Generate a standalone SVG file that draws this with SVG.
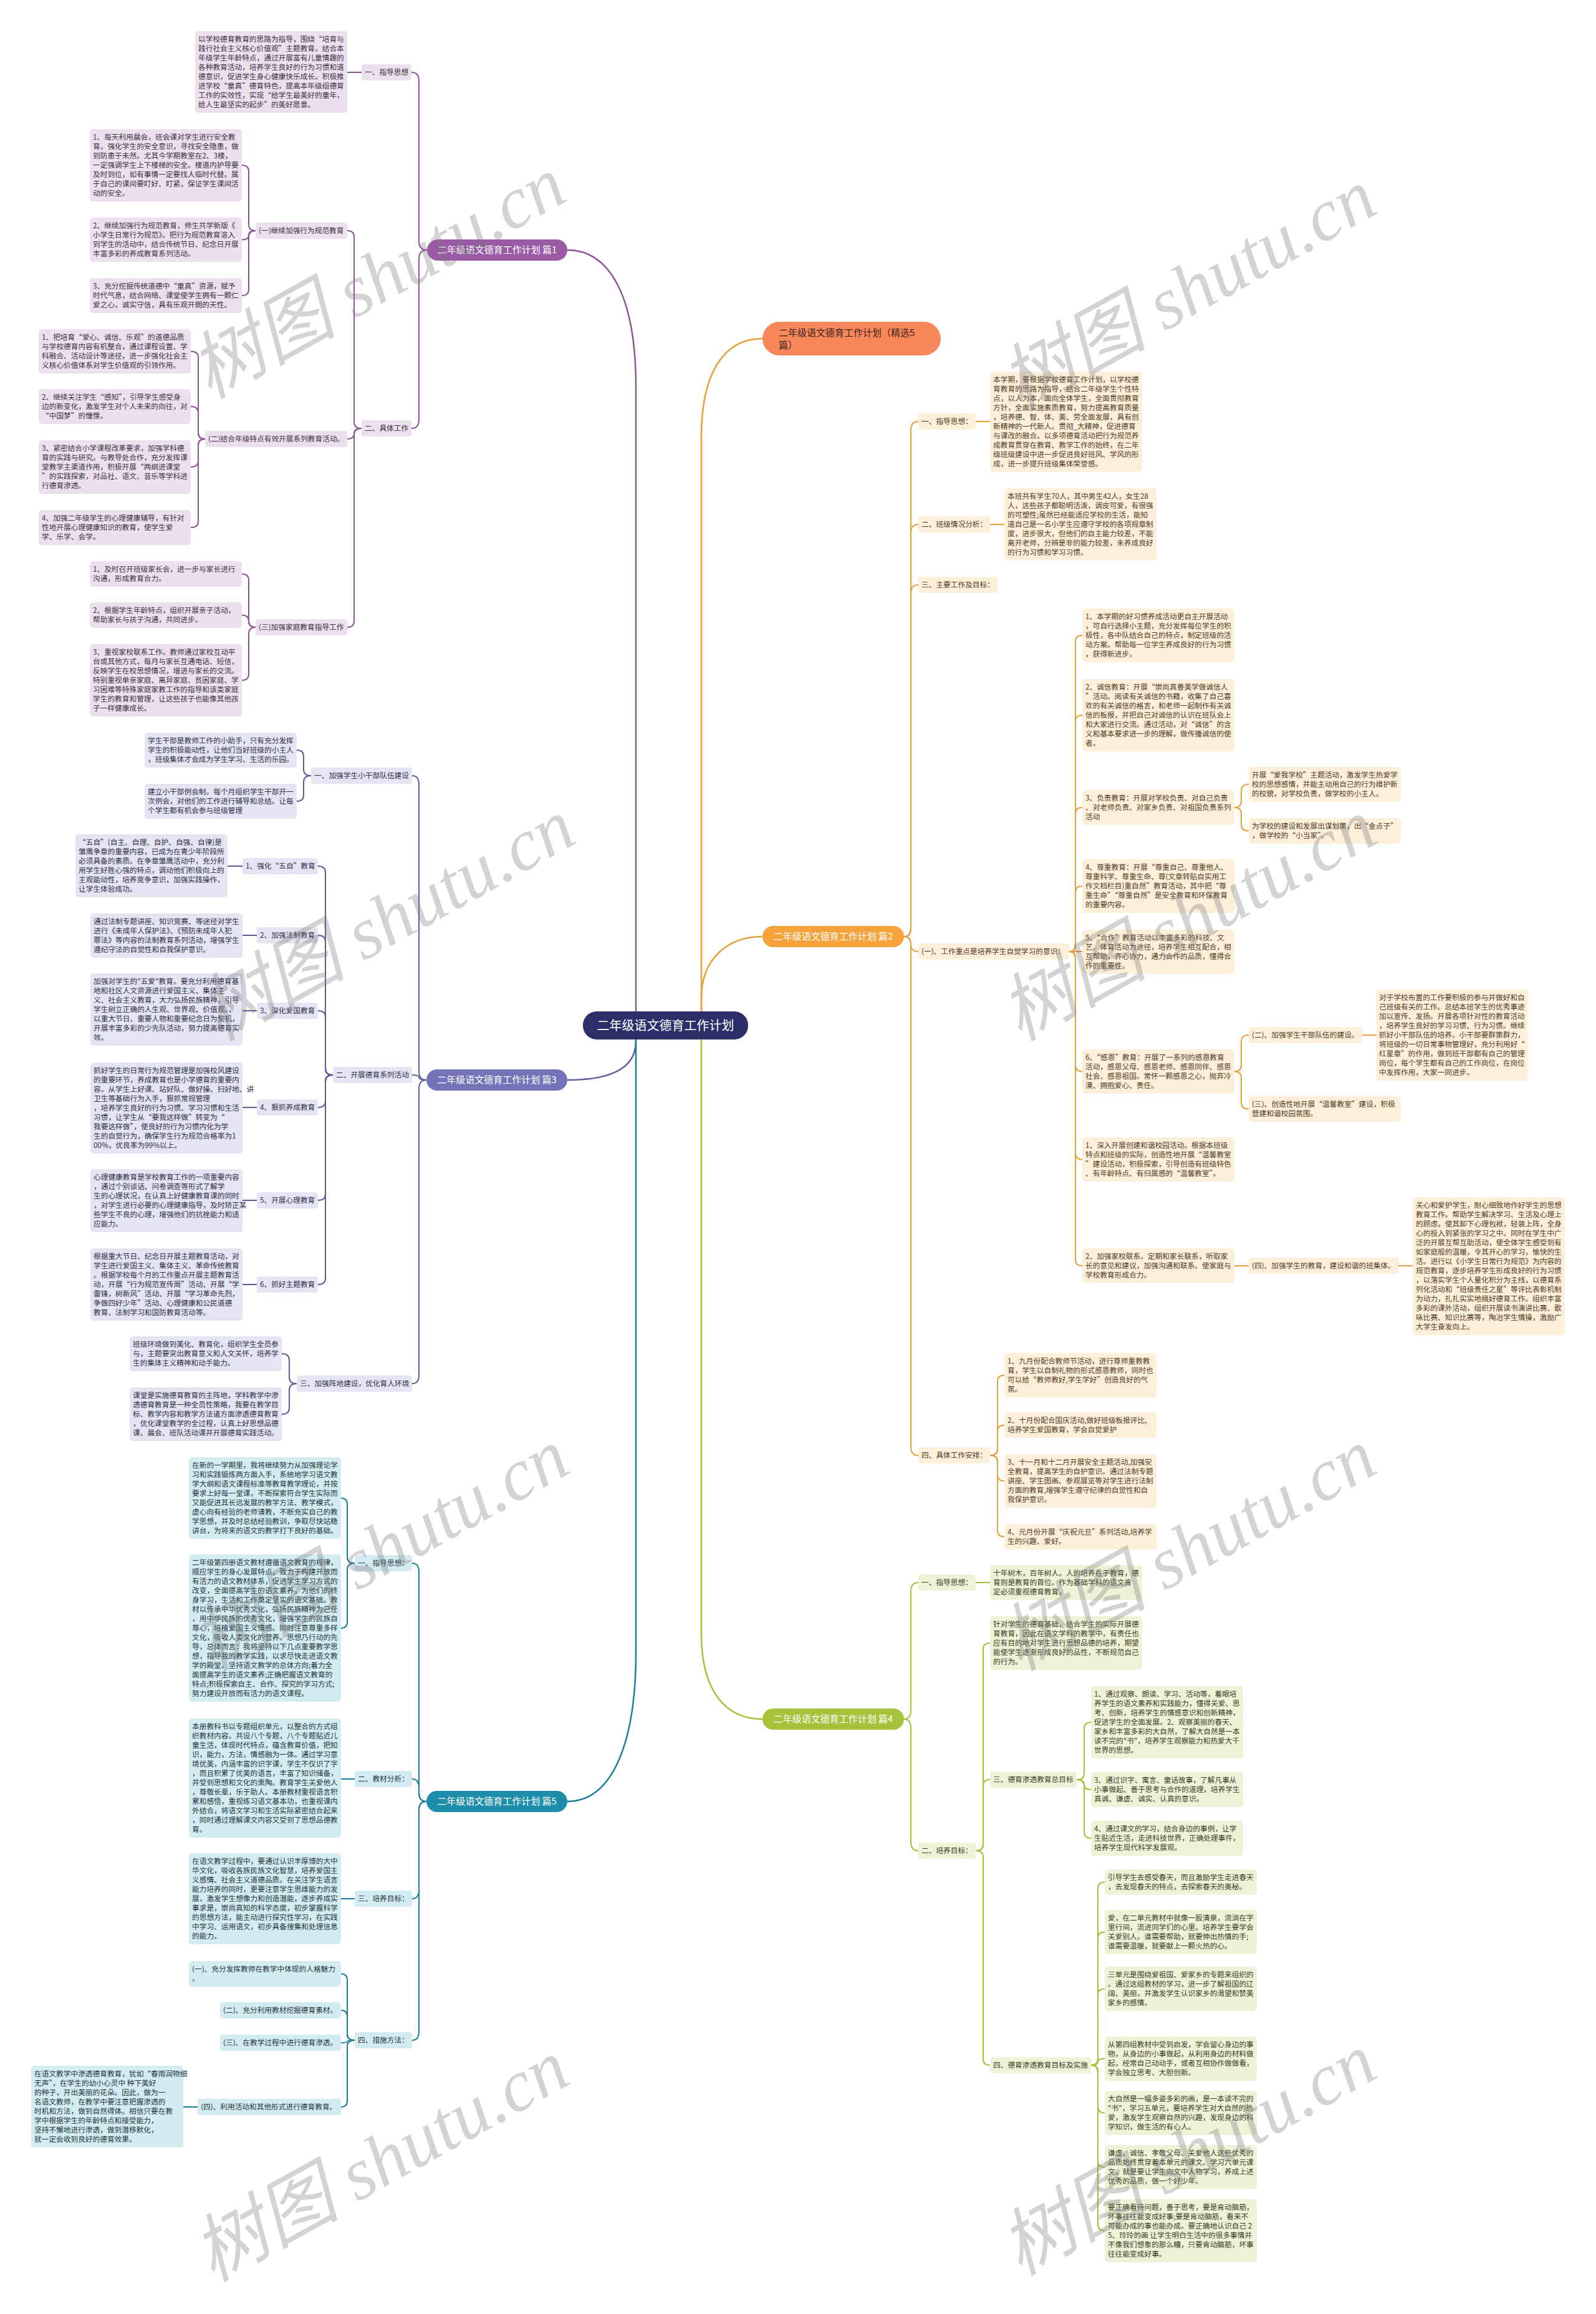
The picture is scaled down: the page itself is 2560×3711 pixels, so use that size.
<svg xmlns="http://www.w3.org/2000/svg" width="2560" height="3711" viewBox="0 0 2560 3711">
<style>
text{font-family:"Noto Sans CJK SC","Noto Sans",sans-serif}
.t{font-size:11.7px}
.tp{fill:#3a3040}.to{fill:#4f3c22}.ts{fill:#2f2f48}.tg{fill:#3a3d25}.tc{fill:#23343a}
.bp{fill:#ece0ef}.bo{fill:#fdefd9}.bs{fill:#e4e4f2}.bg{fill:#eef2d7}.bc{fill:#d3ecf2}
.br{font-size:15px;fill:#fff;text-anchor:middle}
.cp{stroke:#8e5596}.co{stroke:#e6a13a}.cs{stroke:#5c5c9a}.cg{stroke:#a5bf38}.cc{stroke:#1b7e98}
.top{stroke-width:2.5}
.wm{font-family:"Liberation Serif","Noto Sans CJK SC",serif;font-style:italic;font-size:118px;fill:#7a7a7a;fill-opacity:.33}
</style>
<rect width="2560" height="3711" fill="#fff"/>
<g id="connectors" fill="none" stroke-width="2" stroke-linecap="round">
<g class="cp">
<path class="top" d="M 910,401 C 975,401 1020,470 1020,620 L 1020,1644"/>
<path d="M 685,401 Q 672,401 672,387 V 130 Q 672,116 660,116"/>
<path d="M 685,401 Q 672,401 672,415 V 673 Q 672,687 660,687"/>
<path d="M 580,116 H 557"/>
<path d="M 580,687 Q 568,687 568,677 V 380 Q 568,370 557,370"/>
<path d="M 580,687 Q 568,687 568,695 Q 568,704 557,704"/>
<path d="M 580,687 Q 568,687 568,697 V 996 Q 568,1006 557,1006"/>
<path d="M 410,370 Q 399,370 399,360 V 275 Q 399,265 388,265"/>
<path d="M 410,370 Q 399,370 399,377 Q 399,384.5 388,384.5"/>
<path d="M 410,370 Q 399,370 399,380 V 464 Q 399,474 388,474"/>
<path d="M 329,704 Q 318,704 318,694 V 573.5 Q 318,563.5 306,563.5"/>
<path d="M 329,704 Q 318,704 318,694 V 662 Q 318,652 306,652"/>
<path d="M 329,704 Q 318,704 318,714 V 739 Q 318,749 306,749"/>
<path d="M 329,704 Q 318,704 318,714 V 836 Q 318,846 306,846"/>
<path d="M 410,1006 Q 399,1006 399,996 V 930.5 Q 399,920.5 388,920.5"/>
<path d="M 410,1006 Q 399,1006 399,996 Q 399,986.5 388,986.5"/>
<path d="M 410,1006 Q 399,1006 399,1016 V 1081 Q 399,1091 388,1091"/>
</g>
<g class="cs">
<path class="top" d="M 910,1732 C 965,1732 1020,1720 1020,1670 L 1020,1644"/>
<path d="M 684,1732 Q 672,1732 672,1718 V 1258 Q 672,1244 661,1244"/>
<path d="M 684,1732 Q 672,1732 672,1728 Q 672,1724 661,1724"/>
<path d="M 684,1732 Q 672,1732 672,1746 V 2205 Q 672,2219 661,2219"/>
<path d="M 499,1244 Q 487,1244 487,1234 V 1213 Q 487,1203 476,1203"/>
<path d="M 499,1244 Q 487,1244 487,1254 V 1275 Q 487,1285 476,1285"/>
<path d="M 534,1724 Q 522,1724 522,1714 V 1399 Q 522,1389 510,1389"/>
<path d="M 534,1724 Q 522,1724 522,1714 V 1510 Q 522,1500 510,1500"/>
<path d="M 534,1724 Q 522,1724 522,1714 V 1631 Q 522,1621 510,1621"/>
<path d="M 534,1724 Q 522,1724 522,1734 V 1766 Q 522,1776 510,1776"/>
<path d="M 534,1724 Q 522,1724 522,1734 V 1915 Q 522,1925 510,1925"/>
<path d="M 534,1724 Q 522,1724 522,1734 V 2050 Q 522,2060 510,2060"/>
<path d="M 389,1389 H 365"/>
<path d="M 412,1500 H 389"/>
<path d="M 412,1621 H 389"/>
<path d="M 412,1776 H 389"/>
<path d="M 412,1925 H 389"/>
<path d="M 412,2060 H 389"/>
<path d="M 476,2219 Q 464,2219 464,2209 V 2181 Q 464,2171 452,2171"/>
<path d="M 476,2219 Q 464,2219 464,2229 V 2258 Q 464,2268 452,2268"/>
</g>
<g class="cc">
<path class="top" d="M 910,2889 C 980,2889 1020,2800 1020,2650 L 1020,1644"/>
<path d="M 684,2889 Q 672,2889 672,2875 V 2521 Q 672,2507 661,2507"/>
<path d="M 684,2889 Q 672,2889 672,2875 V 2867 Q 672,2853 661,2853"/>
<path d="M 684,2889 Q 672,2889 672,2903 V 3031 Q 672,3045 661,3045"/>
<path d="M 684,2889 Q 672,2889 672,2903 V 3258 Q 672,3272 661,3272"/>
<path d="M 569,2507 Q 557,2507 557,2497 V 2412.5 Q 557,2402.5 547,2402.5"/>
<path d="M 569,2507 Q 557,2507 557,2517 V 2601 Q 557,2611 547,2611"/>
<path d="M 569,2853 H 547"/>
<path d="M 569,3045 H 547"/>
<path d="M 569,3272 Q 557,3272 557,3262 V 3175.5 Q 557,3165.5 547,3165.5"/>
<path d="M 569,3272 Q 557,3272 557,3262 V 3234 Q 557,3224 547,3224"/>
<path d="M 569,3272 Q 557,3272 557,3274 Q 557,3276 547,3276"/>
<path d="M 569,3272 Q 557,3272 557,3282 V 3369 Q 557,3379 547,3379"/>
<path d="M 317,3379 H 294"/>
</g>
<g class="co">
<path class="top" d="M 1223,543 C 1160,543 1125,600 1125,700 L 1125,1644"/>
<path class="top" d="M 1223,1502 C 1165,1502 1125,1540 1125,1600 L 1125,1644"/>
<path d="M 1450,1502 Q 1461,1502 1461,1488 V 690 Q 1461,676 1473,676"/>
<path d="M 1450,1502 Q 1461,1502 1461,1488 V 855 Q 1461,841 1473,841"/>
<path d="M 1450,1502 Q 1461,1502 1461,1488 V 952 Q 1461,938 1473,938"/>
<path d="M 1450,1502 Q 1461,1502 1461,1514 Q 1461,1526 1473,1526"/>
<path d="M 1450,1502 Q 1461,1502 1461,1516 V 2320 Q 1461,2334 1473,2334"/>
<path d="M 1565,676 H 1588"/>
<path d="M 1588,841 H 1611"/>
<path d="M 1715,1526 Q 1725,1526 1725,1516 V 1029 Q 1725,1019 1736,1019"/>
<path d="M 1715,1526 Q 1725,1526 1725,1516 V 1157 Q 1725,1147 1736,1147"/>
<path d="M 1715,1526 Q 1725,1526 1725,1516 V 1305 Q 1725,1295 1736,1295"/>
<path d="M 1715,1526 Q 1725,1526 1725,1516 V 1431 Q 1725,1421 1736,1421"/>
<path d="M 1715,1526 H 1736"/>
<path d="M 1715,1526 Q 1725,1526 1725,1536 V 1708.5 Q 1725,1718.5 1736,1718.5"/>
<path d="M 1715,1526 Q 1725,1526 1725,1536 V 1849.5 Q 1725,1859.5 1736,1859.5"/>
<path d="M 1715,1526 Q 1725,1526 1725,1536 V 2020 Q 1725,2030 1736,2030"/>
<path d="M 1980,1295 Q 1991,1295 1991,1285 V 1268 Q 1991,1258 2003,1258"/>
<path d="M 1980,1295 Q 1991,1295 1991,1305 V 1322.5 Q 1991,1332.5 2003,1332.5"/>
<path d="M 1980,1718.5 Q 1991,1718.5 1991,1708.5 V 1670 Q 1991,1660 2003,1660"/>
<path d="M 1980,1718.5 Q 1991,1718.5 1991,1728.5 V 1768.5 Q 1991,1778.5 2003,1778.5"/>
<path d="M 2185,1660 H 2207"/>
<path d="M 1980,2030 H 2003"/>
<path d="M 2243,2030 H 2266"/>
<path d="M 1588,2334 Q 1600,2334 1600,2324 V 2215.5 Q 1600,2205.5 1611,2205.5"/>
<path d="M 1588,2334 Q 1600,2334 1600,2324 V 2295.5 Q 1600,2285.5 1611,2285.5"/>
<path d="M 1588,2334 Q 1600,2334 1600,2344 V 2365 Q 1600,2375 1611,2375"/>
<path d="M 1588,2334 Q 1600,2334 1600,2344 V 2454.5 Q 1600,2464.5 1611,2464.5"/>
</g>
<g class="cg">
<path class="top" d="M 1223,2757 C 1170,2757 1125,2720 1125,2620 L 1125,1644"/>
<path d="M 1450,2757 Q 1461,2757 1461,2743 V 2552 Q 1461,2538 1473,2538"/>
<path d="M 1450,2757 Q 1461,2757 1461,2771 V 2954 Q 1461,2968 1473,2968"/>
<path d="M 1565,2538 H 1588"/>
<path d="M 1565,2968 Q 1577,2968 1577,2958 V 2645 Q 1577,2635 1588,2635"/>
<path d="M 1565,2968 Q 1577,2968 1577,2958 V 2864 Q 1577,2854 1588,2854"/>
<path d="M 1565,2968 Q 1577,2968 1577,2978 V 3302 Q 1577,3312 1588,3312"/>
<path d="M 1727,2854 Q 1739,2854 1739,2844 V 2772 Q 1739,2762 1750,2762"/>
<path d="M 1727,2854 Q 1739,2854 1739,2862 Q 1739,2870 1750,2870"/>
<path d="M 1727,2854 Q 1739,2854 1739,2864 V 2938 Q 1739,2948 1750,2948"/>
<path d="M 1750,3312 Q 1761,3312 1761,3302 V 3028.5 Q 1761,3018.5 1772,3018.5"/>
<path d="M 1750,3312 Q 1761,3312 1761,3302 V 3108.5 Q 1761,3098.5 1772,3098.5"/>
<path d="M 1750,3312 Q 1761,3312 1761,3302 V 3199.5 Q 1761,3189.5 1772,3189.5"/>
<path d="M 1750,3312 Q 1761,3312 1761,3306.75 Q 1761,3301.5 1772,3301.5"/>
<path d="M 1750,3312 Q 1761,3312 1761,3322 V 3378.5 Q 1761,3388.5 1772,3388.5"/>
<path d="M 1750,3312 Q 1761,3312 1761,3322 V 3465.5 Q 1761,3475.5 1772,3475.5"/>
<path d="M 1750,3312 Q 1761,3312 1761,3322 V 3567.5 Q 1761,3577.5 1772,3577.5"/>
</g>
</g>

<g id="root"><rect x="935" y="1622" width="265" height="45" rx="22" fill="#2b2e68"/><text x="1067.5" y="1651.5" style="font-size:20px;fill:#fff;text-anchor:middle">二年级语文德育工作计划</text></g>
<g id="title"><rect x="1223" y="516" width="286" height="54" rx="27" fill="#f8875c"/><text style="font-size:15px;fill:#3a2418" x="1249" y="539"><tspan x="1249">二年级语文德育工作计划（精选5</tspan><tspan x="1249" dy="20">篇）</tspan></text></g>

<!-- Branch 1 -->
<g id="b1"><rect x="685" y="384" width="225" height="34" rx="17" fill="#9a5aa5"/><text class="br" x="797.5" y="406.4">二年级语文德育工作计划 篇1</text></g>
<g id="b1-n1"><rect class="bp" x="580" y="103" width="80" height="26" rx="4"/><text class="t tp" x="585" y="120">一、指导思想</text></g>
<g id="b1-a"><rect class="bp" x="313" y="50" width="244" height="131" rx="5"/><text class="t tp" x="318" y="67"><tspan x="318">以学校德育教育的思路为指导，围绕“培育与</tspan><tspan x="318" dy="15">践行社会主义核心价值观”主题教育。结合本</tspan><tspan x="318" dy="15">年级学生年龄特点，通过开展富有儿童情趣的</tspan><tspan x="318" dy="15">各种教育活动，培养学生良好的行为习惯和道</tspan><tspan x="318" dy="15">德意识，促进学生身心健康快乐成长。积极推</tspan><tspan x="318" dy="15">进学校“童真”德育特色，提高本年级组德育</tspan><tspan x="318" dy="15">工作的实效性，实现“给学生最美好的童年，</tspan><tspan x="318" dy="15">给人生最坚实的起步”的美好愿景。</tspan></text></g>
<g id="b1-n2"><rect class="bp" x="580" y="674" width="80" height="26" rx="4"/><text class="t tp" x="585" y="691">二、具体工作</text></g>
<g id="b1-n21"><rect class="bp" x="410" y="357" width="147" height="26" rx="4"/><text class="t tp" x="415" y="374">(一)继续加强行为规范教育</text></g>
<g id="b1-b1"><rect class="bp" x="144" y="207" width="244" height="116" rx="5"/><text class="t tp" x="149" y="224"><tspan x="149">1、每天利用晨会，班会课对学生进行安全教</tspan><tspan x="149" dy="15">育。强化学生的安全意识，寻找安全隐患，做</tspan><tspan x="149" dy="15">到防患于未然。尤其今学期教室在2、3楼，</tspan><tspan x="149" dy="15">一定强调学生上下楼梯的安全。楼道内护导要</tspan><tspan x="149" dy="15">及时到位，如有事情一定要找人临时代替。属</tspan><tspan x="149" dy="15">于自己的课间要盯好、盯紧，保证学生课间活</tspan><tspan x="149" dy="15">动的安全。</tspan></text></g>
<g id="b1-b2"><rect class="bp" x="144" y="349" width="244" height="71" rx="5"/><text class="t tp" x="149" y="366"><tspan x="149">2、继续加强行为规范教育，师生共学新版《</tspan><tspan x="149" dy="15">小学生日常行为规范》。把行为规范教育溶入</tspan><tspan x="149" dy="15">到学生的活动中，结合传统节日、纪念日开展</tspan><tspan x="149" dy="15">丰富多彩的养成教育系列活动。</tspan></text></g>
<g id="b1-b3"><rect class="bp" x="144" y="446" width="244" height="56" rx="5"/><text class="t tp" x="149" y="463"><tspan x="149">3、充分挖掘传统道德中“童真”资源，赋予</tspan><tspan x="149" dy="15">时代气息，结合网络、课堂使学生拥有一颗仁</tspan><tspan x="149" dy="15">爱之心，诚实守信，具有乐观开朗的天性。</tspan></text></g>
<g id="b1-n22"><rect class="bp" x="329" y="691" width="228" height="26" rx="4"/><text class="t tp" x="334" y="708">(二)结合年级特点有效开展系列教育活动。</text></g>
<g id="b1-c1"><rect class="bp" x="62" y="528" width="244" height="71" rx="5"/><text class="t tp" x="67" y="545"><tspan x="67">1、把培育“爱心、诚信、乐观”的道德品质</tspan><tspan x="67" dy="15">与学校德育内容有机整合，通过课程设置、学</tspan><tspan x="67" dy="15">科融合、活动设计等途径，进一步强化社会主</tspan><tspan x="67" dy="15">义核心价值体系对学生价值观的引领作用。</tspan></text></g>
<g id="b1-c2"><rect class="bp" x="62" y="624" width="244" height="56" rx="5"/><text class="t tp" x="67" y="641"><tspan x="67">2、继续关注学生“感知”，引导学生感受身</tspan><tspan x="67" dy="15">边的新变化，激发学生对个人未来的向往，对</tspan><tspan x="67" dy="15">“中国梦”的憧憬。</tspan></text></g>
<g id="b1-c3"><rect class="bp" x="62" y="706" width="244" height="86" rx="5"/><text class="t tp" x="67" y="723"><tspan x="67">3、紧密结合小学课程改革要求，加强学科德</tspan><tspan x="67" dy="15">育的实践与研究。与教导处合作，充分发挥课</tspan><tspan x="67" dy="15">堂教学主渠道作用，积极开展“两纲进课堂</tspan><tspan x="67" dy="15">”的实践探索，对品社、语文、音乐等学科进</tspan><tspan x="67" dy="15">行德育渗透。</tspan></text></g>
<g id="b1-c4"><rect class="bp" x="62" y="818" width="244" height="56" rx="5"/><text class="t tp" x="67" y="835"><tspan x="67">4、加强二年级学生的心理健康辅导，有针对</tspan><tspan x="67" dy="15">性地开展心理健康知识的教育，使学生爱</tspan><tspan x="67" dy="15">学、乐学、会学。</tspan></text></g>
<g id="b1-n23"><rect class="bp" x="410" y="993" width="147" height="26" rx="4"/><text class="t tp" x="415" y="1010">(三)加强家庭教育指导工作</text></g>
<g id="b1-d1"><rect class="bp" x="144" y="900" width="244" height="41" rx="5"/><text class="t tp" x="149" y="917"><tspan x="149">1、及时召开班级家长会，进一步与家长进行</tspan><tspan x="149" dy="15">沟通，形成教育合力。</tspan></text></g>
<g id="b1-d2"><rect class="bp" x="144" y="966" width="244" height="41" rx="5"/><text class="t tp" x="149" y="983"><tspan x="149">2、根据学生年龄特点，组织开展亲子活动，</tspan><tspan x="149" dy="15">帮助家长与孩子沟通，共同进步。</tspan></text></g>
<g id="b1-d3"><rect class="bp" x="144" y="1033" width="244" height="116" rx="5"/><text class="t tp" x="149" y="1050"><tspan x="149">3、重视家校联系工作。教师通过家校互动平</tspan><tspan x="149" dy="15">台或其他方式，每月与家长互通电话、短信，</tspan><tspan x="149" dy="15">反映学生在校思想情况，增进与家长的交流。</tspan><tspan x="149" dy="15">特别重视单亲家庭、离异家庭、贫困家庭、学</tspan><tspan x="149" dy="15">习困难等特殊家庭家教工作的指导和该类家庭</tspan><tspan x="149" dy="15">学生的教育和管理，让这些孩子也能像其他孩</tspan><tspan x="149" dy="15">子一样健康成长。</tspan></text></g>

<!-- Branch 3 -->
<g id="b3"><rect x="684" y="1715" width="226" height="34" rx="17" fill="#7473b9"/><text class="br" x="797" y="1737.4">二年级语文德育工作计划 篇3</text></g>
<g id="b3-n1"><rect class="bs" x="499" y="1231" width="162" height="26" rx="4"/><text class="t ts" x="504" y="1248">一、加强学生小干部队伍建设</text></g>
<g id="b3-e1"><rect class="bs" x="232" y="1175" width="244" height="56" rx="5"/><text class="t ts" x="237" y="1192"><tspan x="237">学生干部是教师工作的小助手，只有充分发挥</tspan><tspan x="237" dy="15">学生的积极能动性，让他们当好班级的小主人</tspan><tspan x="237" dy="15">，班级集体才会成为学生学习、生活的乐园。</tspan></text></g>
<g id="b3-e2"><rect class="bs" x="232" y="1257" width="244" height="56" rx="5"/><text class="t ts" x="237" y="1274"><tspan x="237">建立小干部例会制。每个月组织学生干部开一</tspan><tspan x="237" dy="15">次例会，对他们的工作进行辅导和总结。让每</tspan><tspan x="237" dy="15">个学生都有机会参与班级管理</tspan></text></g>
<g id="b3-n2"><rect class="bs" x="534" y="1711" width="127" height="26" rx="4"/><text class="t ts" x="539" y="1728">二、开展德育系列活动</text></g>
<g id="b3-n21"><rect class="bs" x="389" y="1376" width="121" height="26" rx="4"/><text class="t ts" x="394" y="1393">1、强化“五自”教育</text></g>
<g id="b3-f1"><rect class="bs" x="121" y="1338" width="244" height="101" rx="5"/><text class="t ts" x="126" y="1355"><tspan x="126">“五自”(自主、自理、自护、自强、自律)是</tspan><tspan x="126" dy="15">雏鹰争章的重要内容，已成为在青少年阶段所</tspan><tspan x="126" dy="15">必须具备的素质。在争章雏鹰活动中，充分利</tspan><tspan x="126" dy="15">用学生好胜心强的特点，调动他们积极向上的</tspan><tspan x="126" dy="15">主观能动性，培养竞争意识，加强实践操作，</tspan><tspan x="126" dy="15">让学生体验成功。</tspan></text></g>
<g id="b3-n22"><rect class="bs" x="412" y="1487" width="98" height="26" rx="4"/><text class="t ts" x="417" y="1504">2、加强法制教育</text></g>
<g id="b3-f2"><rect class="bs" x="145" y="1465" width="244" height="71" rx="5"/><text class="t ts" x="150" y="1482"><tspan x="150">通过法制专题讲座、知识竞赛、等途径对学生</tspan><tspan x="150" dy="15">进行《未成年人保护法》、《预防未成年人犯</tspan><tspan x="150" dy="15">罪法》等内容的法制教育系列活动，增强学生</tspan><tspan x="150" dy="15">遵纪守法的自觉性和自我保护意识。</tspan></text></g>
<g id="b3-n23"><rect class="bs" x="412" y="1608" width="98" height="26" rx="4"/><text class="t ts" x="417" y="1625">3、深化爱国教育</text></g>
<g id="b3-f3"><rect class="bs" x="145" y="1561" width="244" height="116" rx="5"/><text class="t ts" x="150" y="1578"><tspan x="150">加强对学生的"五爱"教育。要充分利用德育基</tspan><tspan x="150" dy="15">地和社区人文资源进行爱国主义、集体主</tspan><tspan x="150" dy="15">义、社会主义教育，大力弘扬民族精神，引导</tspan><tspan x="150" dy="15">学生树立正确的人生观、世界观、价值观。，</tspan><tspan x="150" dy="15">以重大节日、重要人物和重要纪念日为契机，</tspan><tspan x="150" dy="15">开展丰富多彩的少先队活动，努力提高德育实</tspan><tspan x="150" dy="15">效。</tspan></text></g>
<g id="b3-n24"><rect class="bs" x="412" y="1763" width="98" height="26" rx="4"/><text class="t ts" x="417" y="1780">4、狠抓养成教育</text></g>
<g id="b3-f4"><rect class="bs" x="145" y="1704" width="244" height="146" rx="5"/><text class="t ts" x="150" y="1721"><tspan x="150">抓好学生的日常行为规范管理是加强校风建设</tspan><tspan x="150" dy="15">的重要环节，养成教育也是小学德育的重要内</tspan><tspan x="150" dy="15">容。从学生上好课、站好队、做好操、扫好地、讲</tspan><tspan x="150" dy="15">卫生等基础行为入手，狠抓常规管理</tspan><tspan x="150" dy="15">，培养学生良好的行为习惯、学习习惯和生活</tspan><tspan x="150" dy="15">习惯，让学生从“要我这样做”转变为“</tspan><tspan x="150" dy="15">我要这样做”，使良好的行为习惯内化为学</tspan><tspan x="150" dy="15">生的自觉行为，确保学生行为规范合格率为1</tspan><tspan x="150" dy="15">00%，优良率为99%以上。</tspan></text></g>
<g id="b3-n25"><rect class="bs" x="412" y="1912" width="98" height="26" rx="4"/><text class="t ts" x="417" y="1929">5、开展心理教育</text></g>
<g id="b3-f5"><rect class="bs" x="145" y="1875" width="244" height="101" rx="5"/><text class="t ts" x="150" y="1892"><tspan x="150">心理健康教育是学校教育工作的一项重要内容</tspan><tspan x="150" dy="15">，通过个别谈话、问卷调查等形式了解学</tspan><tspan x="150" dy="15">生的心理状况，在认真上好健康教育课的同时</tspan><tspan x="150" dy="15">，对学生进行必要的心理健康指导，及时矫正某</tspan><tspan x="150" dy="15">些学生不良的心理，增强他们的抗挫能力和适</tspan><tspan x="150" dy="15">应能力。</tspan></text></g>
<g id="b3-n26"><rect class="bs" x="412" y="2047" width="98" height="26" rx="4"/><text class="t ts" x="417" y="2064">6、抓好主题教育</text></g>
<g id="b3-f6"><rect class="bs" x="145" y="2002" width="244" height="116" rx="5"/><text class="t ts" x="150" y="2019"><tspan x="150">根据重大节日、纪念日开展主题教育活动，对</tspan><tspan x="150" dy="15">学生进行爱国主义、集体主义、革命传统教育</tspan><tspan x="150" dy="15">。根据学校每个月的工作重点开展主题教育活</tspan><tspan x="150" dy="15">动，开展“行为规范宣传周”活动、开展“学</tspan><tspan x="150" dy="15">雷锋，树新风”活动、开展“学习革命先烈，</tspan><tspan x="150" dy="15">争做四好少年”活动、心理健康和公民道德</tspan><tspan x="150" dy="15">教育、法制学习和国防教育活动等。</tspan></text></g>
<g id="b3-n3"><rect class="bs" x="476" y="2206" width="185" height="26" rx="4"/><text class="t ts" x="481" y="2223">三、加强阵地建设，优化育人环境</text></g>
<g id="b3-g1"><rect class="bs" x="208" y="2143" width="244" height="56" rx="5"/><text class="t ts" x="213" y="2160"><tspan x="213">班级环境做到美化、教育化，组织学生全员参</tspan><tspan x="213" dy="15">与，主题要突出教育意义和人文关怀，培养学</tspan><tspan x="213" dy="15">生的集体主义精神和动手能力。</tspan></text></g>
<g id="b3-g2"><rect class="bs" x="208" y="2225" width="244" height="86" rx="5"/><text class="t ts" x="213" y="2242"><tspan x="213">课堂是实施德育教育的主阵地，学科教学中渗</tspan><tspan x="213" dy="15">透德育教育是一种全员性策略，我要在教学目</tspan><tspan x="213" dy="15">标、教学内容和教学方法诸方面渗透德育教育</tspan><tspan x="213" dy="15">，优化课堂教学的全过程，认真上好思想品德</tspan><tspan x="213" dy="15">课、晨会、班队活动课并开展德育实践活动。</tspan></text></g>

<!-- Branch 5 -->
<g id="b5"><rect x="684" y="2872" width="226" height="34" rx="17" fill="#1d8eaa"/><text class="br" x="797" y="2894.4">二年级语文德育工作计划 篇5</text></g>
<g id="b5-n1"><rect class="bc" x="569" y="2494" width="92" height="26" rx="4"/><text class="t tc" x="574" y="2511">一、指导思想：</text></g>
<g id="b5-h1"><rect class="bc" x="303" y="2337" width="244" height="131" rx="5"/><text class="t tc" x="308" y="2354"><tspan x="308">在新的一学期里，我将继续努力从加强理论学</tspan><tspan x="308" dy="15">习和实践锻炼两方面入手，系统地学习语文教</tspan><tspan x="308" dy="15">学大纲和语文课程标准等教育教学理论，并按</tspan><tspan x="308" dy="15">要求上好每一堂课，不断探索符合学生实际而</tspan><tspan x="308" dy="15">又能促进其长远发展的教学方法、教学模式，</tspan><tspan x="308" dy="15">虚心向有经验的老师请教，不断充实自己的教</tspan><tspan x="308" dy="15">学思想，并及时总结经验教训，争取尽快站稳</tspan><tspan x="308" dy="15">讲台，为将来的语文的教学打下良好的基础。</tspan></text></g>
<g id="b5-h2"><rect class="bc" x="303" y="2493" width="244" height="236" rx="5"/><text class="t tc" x="308" y="2510"><tspan x="308">二年级第四册语文教材遵循语文教育的规律，</tspan><tspan x="308" dy="15">顺应学生的身心发展特点，致力于构建开放而</tspan><tspan x="308" dy="15">有活力的语文教材体系，促进学生学习方式的</tspan><tspan x="308" dy="15">改变，全面提高学生的语文素养，为他们的终</tspan><tspan x="308" dy="15">身学习，生活和工作奠定坚实的语文基础。教</tspan><tspan x="308" dy="15">材以传承中华优秀文化，弘扬民族精神为己任</tspan><tspan x="308" dy="15">，用中华民族的优秀文化，增强学生的民族自</tspan><tspan x="308" dy="15">尊心，培植爱国主义情感。同时注意尊重多样</tspan><tspan x="308" dy="15">文化，吸收人类文化的营养。思想乃行动的先</tspan><tspan x="308" dy="15">导，总体而言：我将坚持以下几点重要教学思</tspan><tspan x="308" dy="15">想，指导我的教学实践，以求尽快走进语文教</tspan><tspan x="308" dy="15">学的殿堂。坚持语文教学的总体方向;着力全</tspan><tspan x="308" dy="15">面提高学生的语文素养;正确把握语文教育的</tspan><tspan x="308" dy="15">特点;积极探索自主、合作、探究的学习方式;</tspan><tspan x="308" dy="15">努力建设开放而有活力的语文课程。</tspan></text></g>
<g id="b5-n2"><rect class="bc" x="569" y="2840" width="92" height="26" rx="4"/><text class="t tc" x="574" y="2857">二、教材分析：</text></g>
<g id="b5-h3"><rect class="bc" x="303" y="2756" width="244" height="191" rx="5"/><text class="t tc" x="308" y="2773"><tspan x="308">本册教科书以专题组织单元，以整合的方式组</tspan><tspan x="308" dy="15">织教材内容。共设八个专题，八个专题贴近儿</tspan><tspan x="308" dy="15">童生活，体现时代特点，蕴含教育价值，把知</tspan><tspan x="308" dy="15">识，能力，方法，情感融为一体。通过学习意</tspan><tspan x="308" dy="15">境优美，内涵丰富的识字课，学生不仅识了字</tspan><tspan x="308" dy="15">，而且积累了优美的语言，丰富了知识储备，</tspan><tspan x="308" dy="15">并受到思想和文化的熏陶。教育学生关爱他人</tspan><tspan x="308" dy="15">，尊敬长辈，乐于助人。本册教材重视语言积</tspan><tspan x="308" dy="15">累和感悟，重视练习语文基本功，也重视课内</tspan><tspan x="308" dy="15">外结合，将语文学习和生活实际紧密结合起来</tspan><tspan x="308" dy="15">，同时通过理解课文内容又受到了思想品德教</tspan><tspan x="308" dy="15">育。</tspan></text></g>
<g id="b5-n3"><rect class="bc" x="569" y="3032" width="92" height="26" rx="4"/><text class="t tc" x="574" y="3049">三、培养目标：</text></g>
<g id="b5-h4"><rect class="bc" x="303" y="2972" width="244" height="146" rx="5"/><text class="t tc" x="308" y="2989"><tspan x="308">在语文教学过程中，要通过认识丰厚博的大中</tspan><tspan x="308" dy="15">华文化，吸收各族民族文化智慧，培养爱国主</tspan><tspan x="308" dy="15">义感情、社会主义道德品质。在关注学生语言</tspan><tspan x="308" dy="15">能力培养的同时，更要注意学生思维能力的发</tspan><tspan x="308" dy="15">展，激发学生想像力和创造潜能，逐步养成实</tspan><tspan x="308" dy="15">事求是，崇尚真知的科学态度，初步掌握科学</tspan><tspan x="308" dy="15">的思想方法，能主动进行探究性学习，在实践</tspan><tspan x="308" dy="15">中学习、运用语文，初步具备搜集和处理信息</tspan><tspan x="308" dy="15">的能力。</tspan></text></g>
<g id="b5-n4"><rect class="bc" x="569" y="3259" width="92" height="26" rx="4"/><text class="t tc" x="574" y="3276">四、措施方法：</text></g>
<g id="b5-i1"><rect class="bc" x="303" y="3145" width="244" height="41" rx="5"/><text class="t tc" x="308" y="3162"><tspan x="308">(一)、充分发挥教师在教学中体现的人格魅力</tspan><tspan x="308" dy="15">。</tspan></text></g>
<g id="b5-i2"><rect class="bc" x="353" y="3211" width="194" height="26" rx="4"/><text class="t tc" x="358" y="3228">(二)、充分利用教材挖掘德育素材。</text></g>
<g id="b5-i3"><rect class="bc" x="353" y="3263" width="194" height="26" rx="4"/><text class="t tc" x="358" y="3280">(三)、在教学过程中进行德育渗透。</text></g>
<g id="b5-i4"><rect class="bc" x="317" y="3366" width="230" height="26" rx="4"/><text class="t tc" x="322" y="3383">(四)、利用活动和其他形式进行德育教育。</text></g>
<g id="b5-j"><rect class="bc" x="50" y="3313" width="244" height="131" rx="5"/><text class="t tc" x="55" y="3330"><tspan x="55">在语文教学中渗透德育教育，犹如“春雨润物细</tspan><tspan x="55" dy="15">无声”，在学生的幼小心灵中 种下美好</tspan><tspan x="55" dy="15">的种子，开出美丽的花朵。因此，做为一</tspan><tspan x="55" dy="15">名语文教师，在教学中要注意把握渗透的</tspan><tspan x="55" dy="15">时机和方法，做到自然得体。相信只要在教</tspan><tspan x="55" dy="15">学中根据学生的年龄特点和接受能力，</tspan><tspan x="55" dy="15">坚持不懈地进行渗透，做到潜移默化，</tspan><tspan x="55" dy="15">就一定会收到良好的德育效果。</tspan></text></g>

<!-- Branch 2 -->
<g id="b2"><rect x="1223" y="1485" width="227" height="34" rx="17" fill="#f5a23b"/><text class="br" x="1336.5" y="1507.4">二年级语文德育工作计划 篇2</text></g>
<g id="b2-n1"><rect class="bo" x="1473" y="663" width="92" height="26" rx="4"/><text class="t to" x="1478" y="680">一、指导思想：</text></g>
<g id="b2-k1"><rect class="bo" x="1588" y="596" width="244" height="161" rx="5"/><text class="t to" x="1593" y="613"><tspan x="1593">本学期，要根据学校德育工作计划，以学校德</tspan><tspan x="1593" dy="15">育教育的思路为指导，结合二年级学生个性特</tspan><tspan x="1593" dy="15">点，以人为本，面向全体学生，全面贯彻教育</tspan><tspan x="1593" dy="15">方针，全面实施素质教育，努力提高教育质量</tspan><tspan x="1593" dy="15">，培养德、智、体、美、劳全面发展，具有创</tspan><tspan x="1593" dy="15">新精神的一代新人。贯彻_大精神，促进德育</tspan><tspan x="1593" dy="15">与课改的融合。以多项德育活动把行为规范养</tspan><tspan x="1593" dy="15">成教育贯穿在教育、教学工作的始终，在二年</tspan><tspan x="1593" dy="15">级班级建设中进一步促进良好班风、学风的形</tspan><tspan x="1593" dy="15">成，进一步提升班级集体荣誉感。</tspan></text></g>
<g id="b2-n2"><rect class="bo" x="1473" y="828" width="115" height="26" rx="4"/><text class="t to" x="1478" y="845">二、班级情况分析：</text></g>
<g id="b2-k2"><rect class="bo" x="1611" y="783" width="244" height="116" rx="5"/><text class="t to" x="1616" y="800"><tspan x="1616">本班共有学生70人，其中男生42人，女生28</tspan><tspan x="1616" dy="15">人，这些孩子都聪明活泼，调皮可爱，有很强</tspan><tspan x="1616" dy="15">的可塑性;虽然已经能适应学校的生活，能知</tspan><tspan x="1616" dy="15">道自己是一名小学生应遵守学校的各项规章制</tspan><tspan x="1616" dy="15">度，进步很大，但他们的自主能力较差，不能</tspan><tspan x="1616" dy="15">离开老师，分辨是非的能力较差，未养成良好</tspan><tspan x="1616" dy="15">的行为习惯和学习习惯。</tspan></text></g>
<g id="b2-n3"><rect class="bo" x="1473" y="925" width="127" height="26" rx="4"/><text class="t to" x="1478" y="942">三、主要工作及目标：</text></g>
<g id="b2-n4"><rect class="bo" x="1473" y="1513" width="242" height="26" rx="4"/><text class="t to" x="1478" y="1530">(一)、工作重点是培养学生自觉学习的意识：</text></g>
<g id="b2-l1"><rect class="bo" x="1736" y="976" width="244" height="86" rx="5"/><text class="t to" x="1741" y="993"><tspan x="1741">1、本学期的好习惯养成活动更自主开展活动</tspan><tspan x="1741" dy="15">，可自行选择小主题，充分发挥每位学生的积</tspan><tspan x="1741" dy="15">极性，各中队结合自己的特点，制定班级的活</tspan><tspan x="1741" dy="15">动方案。帮助每一位学生养成良好的行为习惯</tspan><tspan x="1741" dy="15">，获得新进步。</tspan></text></g>
<g id="b2-l2"><rect class="bo" x="1736" y="1089" width="244" height="116" rx="5"/><text class="t to" x="1741" y="1106"><tspan x="1741">2、诚信教育：开展“崇尚真善美学做诚信人</tspan><tspan x="1741" dy="15">”活动。阅读有关诚信的书籍，收集了自己喜</tspan><tspan x="1741" dy="15">欢的有关诚信的格言，和老师一起制作有关诚</tspan><tspan x="1741" dy="15">信的板报，并把自己对诚信的认识在班队会上</tspan><tspan x="1741" dy="15">和大家进行交流。通过活动，对“诚信”的含</tspan><tspan x="1741" dy="15">义和基本要求进一步的理解，做传播诚信的使</tspan><tspan x="1741" dy="15">者。</tspan></text></g>
<g id="b2-l3"><rect class="bo" x="1736" y="1267" width="244" height="56" rx="5"/><text class="t to" x="1741" y="1284"><tspan x="1741">3、负责教育：开展对学校负责、对自己负责</tspan><tspan x="1741" dy="15">、对老师负责、对家乡负责、对祖国负责系列</tspan><tspan x="1741" dy="15">活动</tspan></text></g>
<g id="b2-l3a"><rect class="bo" x="2003" y="1230" width="244" height="56" rx="5"/><text class="t to" x="2008" y="1247"><tspan x="2008">开展“爱我学校”主题活动，激发学生热爱学</tspan><tspan x="2008" dy="15">校的思想感情，并能主动用自己的行为维护新</tspan><tspan x="2008" dy="15">的校貌，对学校负责，做学校的小主人。</tspan></text></g>
<g id="b2-l3b"><rect class="bo" x="2003" y="1312" width="244" height="41" rx="5"/><text class="t to" x="2008" y="1329"><tspan x="2008">为学校的建设和发展出谋划策，出“金点子”</tspan><tspan x="2008" dy="15">，做学校的“小当家”。</tspan></text></g>
<g id="b2-l4"><rect class="bo" x="1736" y="1378" width="244" height="86" rx="5"/><text class="t to" x="1741" y="1395"><tspan x="1741">4、尊重教育：开展“尊重自己、尊重他人、</tspan><tspan x="1741" dy="15">尊重科学、尊重生命、尊(文章转贴自实用工</tspan><tspan x="1741" dy="15">作文档栏目)重自然”教育活动，其中把“尊</tspan><tspan x="1741" dy="15">重生命”“尊重自然”是安全教育和环保教育</tspan><tspan x="1741" dy="15">的重要内容。</tspan></text></g>
<g id="b2-l5"><rect class="bo" x="1736" y="1491" width="244" height="71" rx="5"/><text class="t to" x="1741" y="1508"><tspan x="1741">5、“合作”教育活动以丰富多彩的科技、文</tspan><tspan x="1741" dy="15">艺、体育活动为途径，培养学生相互配合，相</tspan><tspan x="1741" dy="15">互帮助，齐心协力，通力合作的品质，懂得合</tspan><tspan x="1741" dy="15">作的重要性。</tspan></text></g>
<g id="b2-l6"><rect class="bo" x="1736" y="1683" width="244" height="71" rx="5"/><text class="t to" x="1741" y="1700"><tspan x="1741">6、“感恩”教育：开展了一系列的感恩教育</tspan><tspan x="1741" dy="15">活动，感恩父母、感恩老师、感恩同伴、感恩</tspan><tspan x="1741" dy="15">社会、感恩祖国。常怀一颗感恩之心，抛弃冷</tspan><tspan x="1741" dy="15">漠、拥抱爱心、责任。</tspan></text></g>
<g id="b2-l6a"><rect class="bo" x="2003" y="1647" width="182" height="26" rx="4"/><text class="t to" x="2008" y="1664">(二)、加强学生干部队伍的建设。</text></g>
<g id="b2-m1"><rect class="bo" x="2207" y="1587" width="244" height="146" rx="5"/><text class="t to" x="2212" y="1604"><tspan x="2212">对于学校布置的工作要积极的参与并做好和自</tspan><tspan x="2212" dy="15">己班级有关的工作。总结本班学生的优秀事迹</tspan><tspan x="2212" dy="15">加以宣传、发扬。开展各项针对性的教育活动</tspan><tspan x="2212" dy="15">，培养学生良好的学习习惯、行为习惯。继续</tspan><tspan x="2212" dy="15">抓好小干部队伍的培养。小干部要群策群力，</tspan><tspan x="2212" dy="15">将班级的一切日常事物管理好，充分利用好“</tspan><tspan x="2212" dy="15">红星章”的作用，做到班干部都有自己的管理</tspan><tspan x="2212" dy="15">岗位，每个学生都有自己的工作岗位，在岗位</tspan><tspan x="2212" dy="15">中发挥作用，大家一同进步。</tspan></text></g>
<g id="b2-l6b"><rect class="bo" x="2003" y="1758" width="244" height="41" rx="5"/><text class="t to" x="2008" y="1775"><tspan x="2008">(三)、创造性地开展“温馨教室”建设，积极</tspan><tspan x="2008" dy="15">营建和谐校园氛围。</tspan></text></g>
<g id="b2-l7"><rect class="bo" x="1736" y="1824" width="244" height="71" rx="5"/><text class="t to" x="1741" y="1841"><tspan x="1741">1、深入开展创建和谐校园活动。根据本班级</tspan><tspan x="1741" dy="15">特点和班级的实际，创造性地开展“温馨教室</tspan><tspan x="1741" dy="15">”建设活动，积极探索，引导创造有班级特色</tspan><tspan x="1741" dy="15">、有年龄特点、有归属感的“温馨教室”。</tspan></text></g>
<g id="b2-l8"><rect class="bo" x="1736" y="2002" width="244" height="56" rx="5"/><text class="t to" x="1741" y="2019"><tspan x="1741">2、加强家校联系。定期和家长联系，听取家</tspan><tspan x="1741" dy="15">长的意见和建议，加强沟通和联系。使家庭与</tspan><tspan x="1741" dy="15">学校教育形成合力。</tspan></text></g>
<g id="b2-l8a"><rect class="bo" x="2003" y="2017" width="240" height="26" rx="4"/><text class="t to" x="2008" y="2034">(四)、加强学生的教育，建设和谐的班集体。</text></g>
<g id="b2-m2"><rect class="bo" x="2266" y="1920" width="244" height="221" rx="5"/><text class="t to" x="2271" y="1937"><tspan x="2271">关心和爱护学生，耐心细致地作好学生的思想</tspan><tspan x="2271" dy="15">教育工作。帮助学生解决学习、生活及心理上</tspan><tspan x="2271" dy="15">的顾虑，使其卸下心理包袱，轻装上阵，全身</tspan><tspan x="2271" dy="15">心的投入到紧张的学习之中。同时在学生中广</tspan><tspan x="2271" dy="15">泛的开展互帮互助活动，使全体学生感受到有</tspan><tspan x="2271" dy="15">如家庭般的温暖，令其开心的学习，愉快的生</tspan><tspan x="2271" dy="15">活。进行以《小学生日常行为规范》为内容的</tspan><tspan x="2271" dy="15">规范教育，逐步培养学生形成良好的行为习惯</tspan><tspan x="2271" dy="15">，以落实学生个人量化积分为主线，以德育系</tspan><tspan x="2271" dy="15">列化活动和“班级责任之星”等评比表彰机制</tspan><tspan x="2271" dy="15">为动力，扎扎实实地搞好德育工作。组织丰富</tspan><tspan x="2271" dy="15">多彩的课外活动，组织开展读书演讲比赛、歌</tspan><tspan x="2271" dy="15">咏比赛、知识比赛等，陶冶学生情操，激励广</tspan><tspan x="2271" dy="15">大学生奋发向上。</tspan></text></g>
<g id="b2-n5"><rect class="bo" x="1473" y="2321" width="115" height="26" rx="4"/><text class="t to" x="1478" y="2338">四、具体工作安排：</text></g>
<g id="b2-p1"><rect class="bo" x="1611" y="2170" width="244" height="71" rx="5"/><text class="t to" x="1616" y="2187"><tspan x="1616">1、九月份配合教师节活动，进行尊师重教教</tspan><tspan x="1616" dy="15">育，学生以自制礼物的形式感恩教师，同时也</tspan><tspan x="1616" dy="15">可以给“教师教好,学生学好”创造良好的气</tspan><tspan x="1616" dy="15">氛。</tspan></text></g>
<g id="b2-p2"><rect class="bo" x="1611" y="2265" width="244" height="41" rx="5"/><text class="t to" x="1616" y="2282"><tspan x="1616">2、十月份配合国庆活动,做好班级板报评比,</tspan><tspan x="1616" dy="15">培养学生爱国教育，学会自觉爱护</tspan></text></g>
<g id="b2-p3"><rect class="bo" x="1611" y="2332" width="244" height="86" rx="5"/><text class="t to" x="1616" y="2349"><tspan x="1616">3、十一月和十二月开展安全主题活动,加强安</tspan><tspan x="1616" dy="15">全教育，提高学生的自护意识。通过法制专题</tspan><tspan x="1616" dy="15">讲座、学生图画、参观展览等对学生进行法制</tspan><tspan x="1616" dy="15">方面的教育,增强学生遵守纪律的自觉性和自</tspan><tspan x="1616" dy="15">我保护意识。</tspan></text></g>
<g id="b2-p4"><rect class="bo" x="1611" y="2444" width="244" height="41" rx="5"/><text class="t to" x="1616" y="2461"><tspan x="1616">4、元月份开展“庆祝元旦”系列活动,培养学</tspan><tspan x="1616" dy="15">生的兴趣、爱好。</tspan></text></g>

<!-- Branch 4 -->
<g id="b4"><rect x="1223" y="2740" width="227" height="34" rx="17" fill="#a6c23a"/><text class="br" x="1336.5" y="2762.4">二年级语文德育工作计划 篇4</text></g>
<g id="b4-n1"><rect class="bg" x="1473" y="2525" width="92" height="26" rx="4"/><text class="t tg" x="1478" y="2542">一、指导思想：</text></g>
<g id="b4-q1"><rect class="bg" x="1588" y="2510" width="244" height="56" rx="5"/><text class="t tg" x="1593" y="2527"><tspan x="1593">十年树木，百年树人。人的培养在于教育，德</tspan><tspan x="1593" dy="15">育则是教育的首位。作为基础学科的语文肯</tspan><tspan x="1593" dy="15">定必须重视德育教育。</tspan></text></g>
<g id="b4-n2"><rect class="bg" x="1473" y="2955" width="92" height="26" rx="4"/><text class="t tg" x="1478" y="2972">二、培养目标：</text></g>
<g id="b4-q2"><rect class="bg" x="1588" y="2592" width="244" height="86" rx="5"/><text class="t tg" x="1593" y="2609"><tspan x="1593">针对学生的德育基础，结合学生的实际开展德</tspan><tspan x="1593" dy="15">育教育，因此在语文学科的教学中，有责任也</tspan><tspan x="1593" dy="15">应有目的地对学生进行思想品德的培养，期望</tspan><tspan x="1593" dy="15">能使学生逐渐形成良好的品性，不断规范自己</tspan><tspan x="1593" dy="15">的行为。</tspan></text></g>
<g id="b4-n21"><rect class="bg" x="1588" y="2841" width="139" height="26" rx="4"/><text class="t tg" x="1593" y="2858">三、德育渗透教育总目标</text></g>
<g id="b4-r1"><rect class="bg" x="1750" y="2704" width="244" height="116" rx="5"/><text class="t tg" x="1755" y="2721"><tspan x="1755">1、通过观察、朗读、学习、活动等，着眼培</tspan><tspan x="1755" dy="15">养学生的语文素养和实践能力，懂得关爱、思</tspan><tspan x="1755" dy="15">考、创新，培养学生的情感意识和创新精神，</tspan><tspan x="1755" dy="15">促进学生的全面发展。2、观察美丽的春天、</tspan><tspan x="1755" dy="15">家乡和丰富多彩的大自然，了解大自然是一本</tspan><tspan x="1755" dy="15">读不完的"书"，培养学生观察能力和热爱大千</tspan><tspan x="1755" dy="15">世界的思想。</tspan></text></g>
<g id="b4-r2"><rect class="bg" x="1750" y="2842" width="244" height="56" rx="5"/><text class="t tg" x="1755" y="2859"><tspan x="1755">3、通过识字、寓言、童话故事，了解凡事从</tspan><tspan x="1755" dy="15">小事做起、善于思考与合作的道理，培养学生</tspan><tspan x="1755" dy="15">真诚、谦虚、诚实、认真的意识。</tspan></text></g>
<g id="b4-r3"><rect class="bg" x="1750" y="2920" width="244" height="56" rx="5"/><text class="t tg" x="1755" y="2937"><tspan x="1755">4、通过课文的学习，结合身边的事例，让学</tspan><tspan x="1755" dy="15">生贴近生活，走进科技世界，正确处理事件，</tspan><tspan x="1755" dy="15">培养学生现代科学发展观。</tspan></text></g>
<g id="b4-n22"><rect class="bg" x="1588" y="3299" width="162" height="26" rx="4"/><text class="t tg" x="1593" y="3316">四、德育渗透教育目标及实施</text></g>
<g id="b4-s1"><rect class="bg" x="1772" y="2998" width="244" height="41" rx="5"/><text class="t tg" x="1777" y="3015"><tspan x="1777">引导学生去感受春天，而且激励学生走进春天</tspan><tspan x="1777" dy="15">，去发现春天的特点，去探索春天的奥秘。</tspan></text></g>
<g id="b4-s2"><rect class="bg" x="1772" y="3063" width="244" height="71" rx="5"/><text class="t tg" x="1777" y="3080"><tspan x="1777">爱，在二单元教材中就像一股清泉，流淌在字</tspan><tspan x="1777" dy="15">里行间，流进同学们的心里。培养学生要学会</tspan><tspan x="1777" dy="15">关爱别人。谁需要帮助，就要伸出热情的手;</tspan><tspan x="1777" dy="15">谁需要温暖，就要献上一颗火热的心。</tspan></text></g>
<g id="b4-s3"><rect class="bg" x="1772" y="3154" width="244" height="71" rx="5"/><text class="t tg" x="1777" y="3171"><tspan x="1777">三单元是围绕爱祖国、爱家乡的专题来组织的</tspan><tspan x="1777" dy="15">。通过这组教材的学习，进一步了解祖国的辽</tspan><tspan x="1777" dy="15">阔、美丽，并激发学生认识家乡的渴望和赞美</tspan><tspan x="1777" dy="15">家乡的感情。</tspan></text></g>
<g id="b4-s4"><rect class="bg" x="1772" y="3266" width="244" height="71" rx="5"/><text class="t tg" x="1777" y="3283"><tspan x="1777">从第四组教材中受到启发，学会留心身边的事</tspan><tspan x="1777" dy="15">物，从身边的小事做起，从利用身边的材料做</tspan><tspan x="1777" dy="15">起，经常自己动动手，或者互相协作做做看，</tspan><tspan x="1777" dy="15">学会独立思考、大胆创新。</tspan></text></g>
<g id="b4-s5"><rect class="bg" x="1772" y="3353" width="244" height="71" rx="5"/><text class="t tg" x="1777" y="3370"><tspan x="1777">大自然是一幅多姿多彩的画，是一本读不完的</tspan><tspan x="1777" dy="15">"书"，学习五单元，要培养学生对大自然的热</tspan><tspan x="1777" dy="15">爱，激发学生观察自然的兴趣，发现身边的科</tspan><tspan x="1777" dy="15">学知识，做生活的有心人。</tspan></text></g>
<g id="b4-s6"><rect class="bg" x="1772" y="3440" width="244" height="71" rx="5"/><text class="t tg" x="1777" y="3457"><tspan x="1777">谦虚、诚信、孝敬父母、关爱他人这些优秀的</tspan><tspan x="1777" dy="15">品质始终贯穿着本单元的课文。学习六单元课</tspan><tspan x="1777" dy="15">文，就是要让学生向文中人物学习，养成上述</tspan><tspan x="1777" dy="15">优秀的品质，做一个好少年。</tspan></text></g>
<g id="b4-s7"><rect class="bg" x="1772" y="3527" width="244" height="101" rx="5"/><text class="t tg" x="1777" y="3544"><tspan x="1777">要正确看待问题，善于思考，要是肯动脑筋，</tspan><tspan x="1777" dy="15">坏事往往能变成好事;要是肯动脑筋，看来不</tspan><tspan x="1777" dy="15">可能办成的事也能办成。要正确地认识自己 2</tspan><tspan x="1777" dy="15">5、玲玲的画 让学生明白生活中的很多事情并</tspan><tspan x="1777" dy="15">不像我们想象的那么糟，只要肯动脑筋，坏事</tspan><tspan x="1777" dy="15">往往能变成好事。</tspan></text></g>

<g id="watermark">
<text class="wm" transform="translate(625,480) rotate(-29)" text-anchor="middle">树图 shutu.cn</text>
<text class="wm" transform="translate(1925,500) rotate(-29)" text-anchor="middle">树图 shutu.cn</text>
<text class="wm" transform="translate(640,1510) rotate(-29)" text-anchor="middle">树图 shutu.cn</text>
<text class="wm" transform="translate(1925,1510) rotate(-29)" text-anchor="middle">树图 shutu.cn</text>
<text class="wm" transform="translate(630,2520) rotate(-29)" text-anchor="middle">树图 shutu.cn</text>
<text class="wm" transform="translate(1925,2520) rotate(-29)" text-anchor="middle">树图 shutu.cn</text>
<text class="wm" transform="translate(630,3500) rotate(-29)" text-anchor="middle">树图 shutu.cn</text>
<text class="wm" transform="translate(1925,3490) rotate(-29)" text-anchor="middle">树图 shutu.cn</text>
</g>
</svg>
